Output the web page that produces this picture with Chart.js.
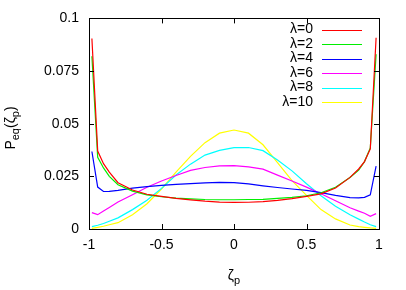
<!doctype html>
<html lang="en">
<head>
  <meta charset="utf-8">
  <title>P_eq(zeta_p)</title>
  <script src="https://cdn.jsdelivr.net/npm/chart.js@4"></script>
  <style>
    html, body { margin: 0; padding: 0; background: #fff; }
    #wrap { width: 406px; height: 290px; }
  </style>
</head>
<body>
<div id="wrap"><canvas id="chart1" width="406" height="290"></canvas></div>
<script>
  // values
  const zeta = [-0.98, -0.94, -0.9, -0.86, -0.8, -0.7, -0.6, -0.5, -0.4, -0.3, -0.2, -0.1, 0,
                0.1, 0.2, 0.3, 0.4, 0.5, 0.6, 0.7, 0.8, 0.86, 0.9, 0.94, 0.98]

  const lam0  = [0.0905, 0.037, 0.031, 0.027, 0.022, 0.0185, 0.0165, 0.0155, 0.0145, 0.0138, 0.0132, 0.0128, 0.0126,
                 0.0127, 0.013, 0.0136, 0.0144, 0.0155, 0.0167, 0.0195, 0.0245, 0.0285, 0.032, 0.038, 0.0908]
  const lam2  = [0.082, 0.034, 0.029, 0.025, 0.021, 0.018, 0.0162, 0.0153, 0.0147, 0.0143, 0.014, 0.0139, 0.0139,
                 0.014, 0.0141, 0.0145, 0.015, 0.0158, 0.0172, 0.0198, 0.0245, 0.028, 0.032, 0.0385, 0.083]
  const lam4  = [0.0368, 0.0199, 0.0178, 0.0179, 0.0183, 0.0194, 0.0201, 0.0207, 0.0212, 0.0215, 0.0219, 0.0221, 0.022,
                 0.0214, 0.0205, 0.0197, 0.019, 0.0183, 0.0173, 0.016, 0.0149, 0.0148, 0.015, 0.0162, 0.0298]
  const lam6  = [0.0078, 0.0068, 0.0085, 0.0102, 0.0128, 0.0163, 0.0198, 0.0228, 0.0254, 0.0278, 0.0292, 0.03, 0.0301,
                 0.0295, 0.0284, 0.0256, 0.0228, 0.0199, 0.0167, 0.0134, 0.0101, 0.0085, 0.0075, 0.006, 0.0073]
  const lam8  = [0.0011, 0.0018, 0.0026, 0.0037, 0.0053, 0.0092, 0.0137, 0.0193, 0.0256, 0.0308, 0.0351, 0.0373, 0.0386,
                 0.0387, 0.0372, 0.0328, 0.0276, 0.0215, 0.0158, 0.0108, 0.0068, 0.0047, 0.0033, 0.002, 0.0011]
  const lam10 = [0.0003, 0.0008, 0.0013, 0.002, 0.003, 0.0068, 0.012, 0.019, 0.027, 0.0345, 0.041, 0.0455, 0.047,
                 0.0455, 0.0400, 0.0315, 0.023, 0.016, 0.0092, 0.0048, 0.0019, 0.0011, 0.0008, 0.0005, 0.0003]

  const seriesLabels = ['λ=0', 'λ=2', 'λ=4', 'λ=6', 'λ=8', 'λ=10']
  const seriesColors = ['#ff0000', '#00ee00', '#0000ff', '#ff00ff', '#00ffff', '#ffff00']

  const xTicks = [-1, -0.5, 0, 0.5, 1]
  const xTickLabels = ['-1', '-0.5', '0', '0.5', '1']
  const yTicks = [0, 0.025, 0.05, 0.075, 0.1]
  const yTickLabels = ['0', '0.025', '0.05', '0.075', '0.1']

  const FONT = 'Liberation Sans, Arial, Helvetica, sans-serif'

  const allSeries = [lam0, lam2, lam4, lam6, lam8, lam10]
  const datasets = allSeries.map((vals, i) => ({
    label: seriesLabels[i],
    data: zeta.map((z, k) => ({x: z, y: vals[k]})),
    borderColor: seriesColors[i],
    backgroundColor: seriesColors[i],
    borderWidth: 1.2,
    showLine: true,
    pointRadius: 0,
    tension: 0,
  }))

  // inward ticks on all four sides, legend, axis titles with subscripts
  const gnuplotBits = {
    id: 'gnuplotBits',
    afterDraw(chart) {
      const ctx = chart.ctx
      const a = chart.chartArea
      const xs = chart.scales.x, ys = chart.scales.y
      ctx.save()
      ctx.strokeStyle = '#000'
      ctx.lineWidth = 1
      ctx.strokeRect(Math.round(a.left) + 0.5, Math.round(a.top) + 0.5,
        Math.round(a.right - a.left), Math.round(a.bottom - a.top))
      ctx.beginPath()
      for (const v of xTicks) {
        const px = Math.round(xs.getPixelForValue(v)) + 0.5
        ctx.moveTo(px, a.bottom); ctx.lineTo(px, a.bottom - 5)
        ctx.moveTo(px, a.top); ctx.lineTo(px, a.top + 5)
      }
      for (const v of yTicks) {
        const py = Math.round(ys.getPixelForValue(v)) + 0.5
        ctx.moveTo(a.left, py); ctx.lineTo(a.left + 5, py)
        ctx.moveTo(a.right, py); ctx.lineTo(a.right - 5, py)
      }
      ctx.stroke()

      // legend
      ctx.font = '14px ' + FONT
      ctx.textAlign = 'right'
      ctx.textBaseline = 'middle'
      seriesLabels.forEach((lab, i) => {
        const y = 29.5 + i * 14.5
        ctx.fillStyle = '#000'
        ctx.fillText(lab, 313, y)
        ctx.strokeStyle = seriesColors[i]
        ctx.lineWidth = 1.2
        ctx.beginPath()
        ctx.moveTo(322, Math.round(y) + 0.5)
        ctx.lineTo(362, Math.round(y) + 0.5)
        ctx.stroke()
      })

      // x title: zeta_p
      ctx.fillStyle = '#000'
      ctx.textBaseline = 'alphabetic'
      ctx.textAlign = 'left'
      ctx.font = '14px ' + FONT
      const zw = ctx.measureText('ζ').width
      ctx.font = '11px ' + FONT
      const pw = ctx.measureText('p').width
      const x0 = (a.left + a.right) / 2 - (zw + pw) / 2
      ctx.font = '14px ' + FONT
      ctx.fillText('ζ', x0, 280)
      ctx.font = '11px ' + FONT
      ctx.fillText('p', x0 + zw, 284)

      // y title: P_eq(zeta_p), rotated
      ctx.translate(15, 128)
      ctx.rotate(-Math.PI / 2)
      const parts = [['P', 14, 0], ['eq', 11, 4], ['(ζ', 14, 0], ['p', 11, 4], [')', 14, 0]]
      let total = 0
      for (const [t, s] of parts) { ctx.font = s + 'px ' + FONT; total += ctx.measureText(t).width }
      let cx = -total / 2
      for (const [t, s, dy] of parts) {
        ctx.font = s + 'px ' + FONT
        ctx.fillText(t, cx, dy)
        cx += ctx.measureText(t).width
      }
      ctx.restore()
    }
  }

  new Chart(document.getElementById('chart1'), {
    type: 'scatter',
    data: { datasets },
    options: {
      responsive: false,
      animation: false,
      layout: { padding: { left: 0, top: 17, right: 27, bottom: 0 } },
      scales: {
        x: {
          type: 'linear',
          min: -1, max: 1,
          afterBuildTicks: s => { s.ticks = xTicks.map(v => ({value: v})) },
          afterFit: s => { s.height = 61 },
          grid: { display: false, drawTicks: false },
          border: { display: false },
          ticks: {
            color: '#000',
            font: { family: FONT, size: 14 },
            padding: 8,
            maxRotation: 0,
            callback: v => xTickLabels[xTicks.indexOf(v)]
          }
        },
        y: {
          type: 'linear',
          min: 0, max: 0.1,
          afterBuildTicks: s => { s.ticks = yTicks.map(v => ({value: v})) },
          afterFit: s => { s.width = 89 },
          grid: { display: false, drawTicks: false },
          border: { display: false },
          ticks: {
            color: '#000',
            font: { family: FONT, size: 14 },
            padding: 10,
            callback: v => yTickLabels[yTicks.indexOf(v)]
          }
        }
      },
      plugins: {
        legend: { display: false },
        tooltip: { enabled: false }
      }
    },
    plugins: [gnuplotBits]
  })
</script>
</body>
</html>
